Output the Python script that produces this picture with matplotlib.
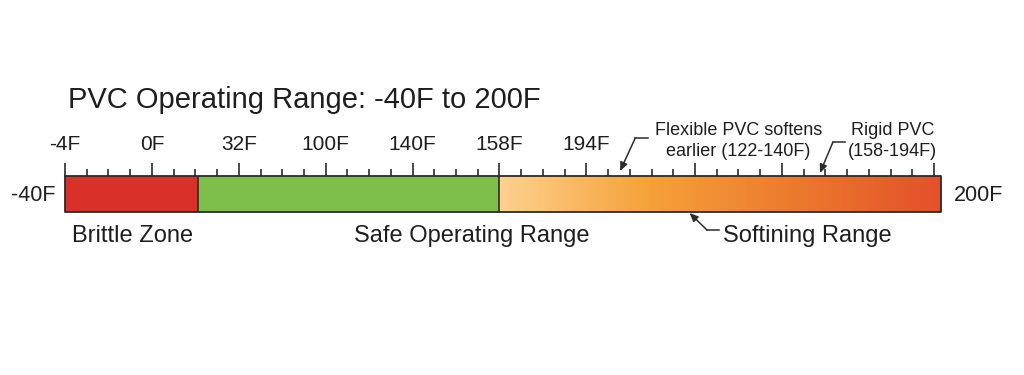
import numpy as np
import matplotlib
matplotlib.use("Agg")
import matplotlib.pyplot as plt
from matplotlib.colors import LinearSegmentedColormap

plt.rcParams['font.family'] = ['Liberation Sans', 'DejaVu Sans']

# zone data (positions along the schematic scale, in tick steps)
zone_names = ["Brittle Zone", "Safe Operating Range", "Softining Range"]
zone_edges = [0, 6.1, 20.0, 40.3]
zone_colors = ["#D9302A", "#7DBF4A", None]
soft_colors = ["#FDD190", "#F5A23A", "#EC7A2E", "#E4502A"]

n_ticks = 41
major_idx = [0, 4, 8, 12, 16, 20, 24, 29, 33, 40]
major_labels = ["-4F", "0F", "32F", "100F", "140F", "158F", "194F"]

title = "PVC Operating Range: -40F to 200F"
low_label = "-40F"
high_label = "200F"
flex_note = ["Flexible PVC softens", "earlier (122-140F)"]
rigid_note = ["Rigid PVC", "(158-194F)"]

txt = "#1e1e1e"
edge = "#2b2b2b"

fig = plt.figure(figsize=(10.24, 3.75), dpi=100)
ax = fig.add_axes([0, 0, 1, 1])
step = (934 - 65) / 40.0
ax.set_xlim(-65 / step, (1024 - 65) / step)
ax.set_ylim(375, 0)
ax.axis("off")

bar_top, bar_bot = 176, 212

# red + green zones
for i in range(2):
    ax.fill_between([zone_edges[i], zone_edges[i + 1]], bar_top, bar_bot,
                    color=zone_colors[i], linewidth=0)

# softening gradient
cmap = LinearSegmentedColormap.from_list("soft", soft_colors)
grad = np.linspace(0, 1, 256).reshape(1, -1)
ax.imshow(grad, cmap=cmap, aspect="auto", interpolation="bilinear",
          extent=[zone_edges[2], zone_edges[3], bar_bot, bar_top], zorder=1)

# outline and separators
ax.plot([zone_edges[0], zone_edges[-1], zone_edges[-1], zone_edges[0], zone_edges[0]],
        [bar_top, bar_top, bar_bot, bar_bot, bar_top], color=edge, lw=1.3, zorder=3)
for e in zone_edges[1:-1]:
    ax.vlines(e, bar_top, bar_bot, color=edge, lw=1.2, zorder=3)

# ticks
for i in range(n_ticks):
    top = bar_top - 13 if i in major_idx else bar_top - 7
    ax.vlines(i, top, bar_top, color=edge, lw=1.2, zorder=3)
for i, lab in zip(major_idx, major_labels):
    ax.text(i, 150, lab, ha="center", va="baseline", fontsize=15, color=txt)

ax.text(0.12, 108, title, ha="left", va="baseline", fontsize=21, color=txt)
ax.text(-0.45, 201, low_label, ha="right", va="baseline", fontsize=15.5, color=txt)
ax.text(40.9, 201, high_label, ha="left", va="baseline", fontsize=15.5, color=txt)

# zone labels under the bar
ax.text(0.33, 242, zone_names[0], ha="left", va="baseline", fontsize=17, color=txt)
ax.text(18.7, 242, zone_names[1], ha="center", va="baseline", fontsize=17, color=txt)
ax.text(30.3, 242, zone_names[2], ha="left", va="baseline", fontsize=17, color=txt)

arrow = dict(arrowstyle="-|>,head_length=0.5,head_width=0.22", color=edge, lw=1.1,
             shrinkA=0, shrinkB=0)

def callout(tip, elbow, stub_end):
    ax.plot([elbow[0], stub_end[0]], [elbow[1], elbow[1]], color=edge, lw=1.1)
    ax.annotate("", xy=tip, xytext=elbow, arrowprops=arrow)

callout((25.55, 171), (26.25, 138), (26.85, 138))
callout((34.75, 173), (35.35, 142), (35.9, 142))
callout((28.75, 213), (29.55, 230), (30.1, 230))

ax.text(31.0, 135, flex_note[0], ha="center", va="baseline", fontsize=13, color=txt)
ax.text(31.0, 156, flex_note[1], ha="center", va="baseline", fontsize=13, color=txt)
ax.text(38.1, 135, rigid_note[0], ha="center", va="baseline", fontsize=13, color=txt)
ax.text(38.1, 156, rigid_note[1], ha="center", va="baseline", fontsize=13, color=txt)

fig.savefig("out.png", dpi=100, facecolor="white")
